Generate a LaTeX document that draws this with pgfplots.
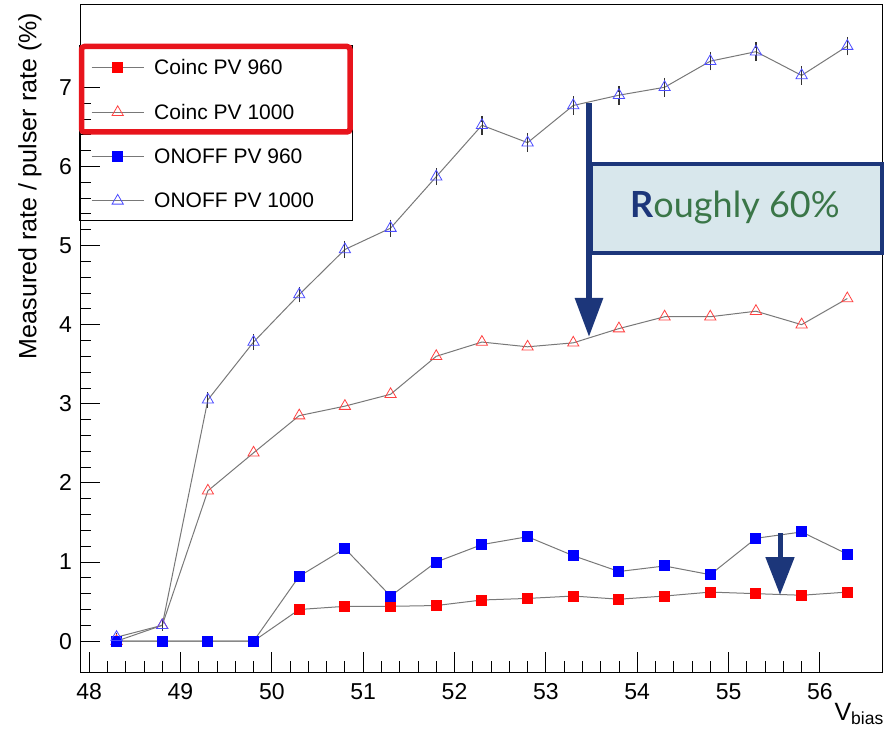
\documentclass[border=0pt]{standalone}
\usepackage{pgfplots}
\pgfplotsset{compat=1.18}
\usepackage{fontspec}
\setmainfont{Liberation Sans}
\newfontfamily\latofont{Lato}
\usetikzlibrary{arrows.meta}
\definecolor{navy}{RGB}{28,54,122}
\definecolor{boxfill}{RGB}{216,231,236}
\definecolor{txtgreen}{RGB}{58,118,72}
\definecolor{legred}{RGB}{232,20,28}
\definecolor{linegray}{RGB}{120,120,120}

\begin{document}
\begin{tikzpicture}[x=1pt,y=1pt]
\useasboundingbox (0,0) rectangle (884,732);
\begin{axis}[
  at={(80pt,60pt)}, anchor=south west,
  width=802pt, height=667pt, scale only axis,
  xmin=47.9, xmax=56.68, ymin=-0.39, ymax=8.04,
  xtick={48,...,56}, ytick={0,...,7},
  minor tick num=4,
  tick pos=left, tick align=inside,
  major tick length=20pt, minor tick length=11pt,
  every tick/.style={black, line width=0.8pt},
  axis line style={line width=1pt},
  tick label style={font=\fontsize{23}{23}\selectfont, inner sep=0pt},
  /pgf/number format/assume math mode=true,
  xticklabel style={yshift=-11pt},
  yticklabel style={xshift=-8pt},
  xlabel={V\textsubscript{bias}},
  xlabel style={at={(axis description cs:1.0025,-0.046)}, anchor=north east, inner sep=0pt, font=\fontsize{25}{25}\selectfont},
  ylabel={Measured rate / pulser rate (\%)},
  ylabel style={at={(axis description cs:-0.0623,0.7286)}, anchor=center, font=\fontsize{25}{25}\selectfont},
  legend style={at={(0.0137,0.922)}, anchor=north west, draw=none, fill=none,
    inner sep=0pt, row sep=24pt, font=\fontsize{21}{21}\selectfont},
  legend cell align=left,
  legend image code/.code={\draw[mark repeat=2,mark phase=2] plot coordinates {(0pt,0pt) (26pt,0pt) (52pt,0pt)};\path (60pt,0pt);},
]
% Coinc PV 960
\addplot[linegray, line width=1pt, mark=square*, mark size=5pt, mark options={red, fill=red, draw=red}]
  coordinates {(48.3,0) (48.8,0) (49.3,0) (49.8,0) (50.3,0.40) (50.8,0.44) (51.3,0.44) (51.8,0.45) (52.3,0.52) (52.8,0.54) (53.3,0.57) (53.8,0.53) (54.3,0.57) (54.8,0.62) (55.3,0.60) (55.8,0.58) (56.3,0.62)};
% Coinc PV 1000
\addplot[linegray, line width=1pt, mark=triangle, mark size=6.5pt, mark options={red!75, line width=0.8pt}]
  coordinates {(48.3,0) (48.8,0.20) (49.3,1.90) (49.8,2.38) (50.3,2.85) (50.8,2.97) (51.3,3.12) (51.8,3.60) (52.3,3.78) (52.8,3.72) (53.3,3.77) (53.8,3.95) (54.3,4.10) (54.8,4.10) (55.3,4.17) (55.8,4.00) (56.3,4.33)};
% ONOFF PV 960
\addplot[linegray, line width=1pt, mark=square*, mark size=5pt, mark options={blue, fill=blue, draw=blue}]
  coordinates {(48.3,0) (48.8,0) (49.3,0) (49.8,0) (50.3,0.82) (50.8,1.17) (51.3,0.57) (51.8,1.00) (52.3,1.22) (52.8,1.32) (53.3,1.08) (53.8,0.88) (54.3,0.95) (54.8,0.84) (55.3,1.30) (55.8,1.38) (56.3,1.10)};
% ONOFF PV 1000
\addplot[linegray, line width=1pt, mark=triangle, mark size=6.5pt, mark options={blue!70, line width=0.8pt},
  error bars/.cd, y dir=both, y explicit, error mark=-, error bar style={black!80, line width=0.8pt}, error mark options={black!80, line width=1.2pt, mark size=3pt}]
  coordinates {(48.3,0.05) +- (0,0.02) (48.8,0.20) +- (0,0.03) (49.3,3.05) +- (0,0.06) (49.8,3.78) +- (0,0.06) (50.3,4.38) +- (0,0.06) (50.8,4.95) +- (0,0.07) (51.3,5.22) +- (0,0.07) (51.8,5.87) +- (0,0.07) (52.3,6.52) +- (0,0.08) (52.8,6.30) +- (0,0.08) (53.3,6.77) +- (0,0.08) (53.8,6.90) +- (0,0.08) (54.3,7.00) +- (0,0.08) (54.8,7.33) +- (0,0.08) (55.3,7.45) +- (0,0.08) (55.8,7.15) +- (0,0.08) (56.3,7.52) +- (0,0.08)};
\legend{Coinc PV 960, Coinc PV 1000, ONOFF PV 960, ONOFF PV 1000}
\end{axis}
% legend frame and highlight
\draw[black, line width=0.8pt] (79,687) rectangle (352,512);
\draw[legred, line width=5.5pt, rounded corners=3pt] (81.5,685.5) rectangle (350,600);
% annotation
\draw[navy, line width=6pt, -{Triangle[width=27pt,length=39pt]}] (589,629) -- (589,395);
\draw[navy, fill=boxfill, line width=3.3pt] (591,568) rectangle (882,479);
\node[font=\latofont\fontsize{36}{36}\selectfont, text=txtgreen] at (735,524) {\textcolor{navy}{\bfseries R}oughly 60\%};
\draw[navy, line width=5pt, -{Triangle[width=28pt,length=38pt]}] (780,199) -- (780,137);
\end{tikzpicture}
\end{document}
